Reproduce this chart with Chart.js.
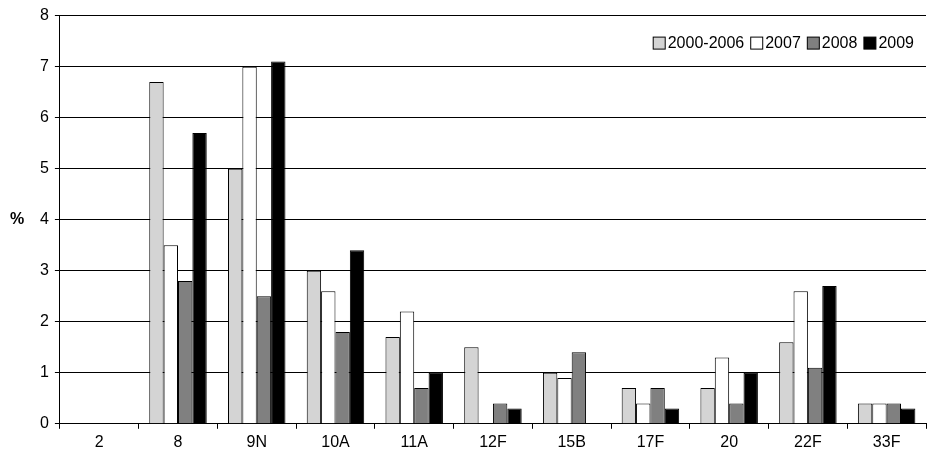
<!DOCTYPE html>
<html>
<head>
<meta charset="utf-8">
<script src="https://cdn.jsdelivr.net/npm/chart.js@4"></script>
<style>
  body { margin: 0; background: #fff; }
  #wrap { width: 928px; height: 462px; }
</style>
</head>
<body>
<div id="wrap"><canvas id="chart"></canvas></div>
<script>
const categories = ["2", "8", "9N", "10A", "11A", "12F", "15B", "17F", "20", "22F", "33F"];
const s2000 = [0, 6.7, 5.0, 3.0, 1.7, 1.5, 1.0, 0.7, 0.7, 1.6, 0.4];
const s2007 = [0, 3.5, 7.0, 2.6, 2.2, 0, 0.9, 0.4, 1.3, 2.6, 0.4];
const s2008 = [0, 2.8, 2.5, 1.8, 0.7, 0.4, 1.4, 0.7, 0.4, 1.1, 0.4];
const s2009 = [0, 5.7, 7.1, 3.4, 1.0, 0.3, 0, 0.3, 1.0, 2.7, 0.3];

const mk = (label, data, color) => ({
  label, data, backgroundColor: color, borderColor: "#000", borderWidth: 1,
  categoryPercentage: 0.73, barPercentage: 1.0
});

Chart.defaults.font.family = "Liberation Sans, Arial, sans-serif";
Chart.defaults.font.size = 16;
Chart.defaults.color = "#000";

// legend inside the plot, top right, plus the unrotated "%" axis label
const extras = {
  id: "extras",
  afterDraw(chart) {
    const ctx = chart.ctx;
    const area = chart.chartArea;
    ctx.save();
    ctx.font = "bold 16px Liberation Sans, Arial, sans-serif";
    ctx.fillStyle = "#000";
    ctx.textBaseline = "middle";
    ctx.textAlign = "center";
    ctx.fillText("%", 17, chart.scales.y.getPixelForValue(4));
    ctx.font = "16px Liberation Sans, Arial, sans-serif";
    ctx.textAlign = "left";
    const items = chart.data.datasets;
    const box = 12, gap = 3, sep = 6;
    let widths = items.map(d => box + gap + ctx.measureText(d.label).width);
    let total = widths.reduce((a, b) => a + b, 0) + sep * (items.length - 1);
    let x = area.right - 12 - total;
    const y = area.top + 27;
    items.forEach((d, i) => {
      ctx.fillStyle = d.backgroundColor;
      ctx.strokeStyle = "#000";
      ctx.lineWidth = 1;
      ctx.fillRect(x + 0.5, y - box / 2 + 0.5, box, box);
      ctx.strokeRect(x + 0.5, y - box / 2 + 0.5, box, box);
      ctx.fillStyle = "#000";
      ctx.fillText(d.label, x + box + gap, y + 1);
      x += widths[i] + sep;
    });
    ctx.restore();
  }
};

new Chart(document.getElementById("chart"), {
  type: "bar",
  data: {
    labels: categories,
    datasets: [
      mk("2000-2006", s2000, "#d4d4d4"),
      mk("2007", s2007, "#ffffff"),
      mk("2008", s2008, "#808080"),
      mk("2009", s2009, "#000000")
    ]
  },
  plugins: [extras],
  options: {
    responsive: true,
    maintainAspectRatio: false,
    animation: false,
    layout: { padding: { top: 13, right: 2, bottom: 6, left: 34 } },
    plugins: {
      legend: { display: false },
      tooltip: { enabled: false }
    },
    scales: {
      x: {
        grid: { display: true, drawOnChartArea: false, color: "#000", tickLength: 5, offset: true },
        border: { color: "#000" },
        ticks: { padding: 4 }
      },
      y: {
        min: 0, max: 8,
        ticks: { stepSize: 1, padding: 6 },
        grid: { color: "#000", tickLength: 5 },
        border: { color: "#000" }
      }
    }
  }
});
</script>
</body>
</html>
